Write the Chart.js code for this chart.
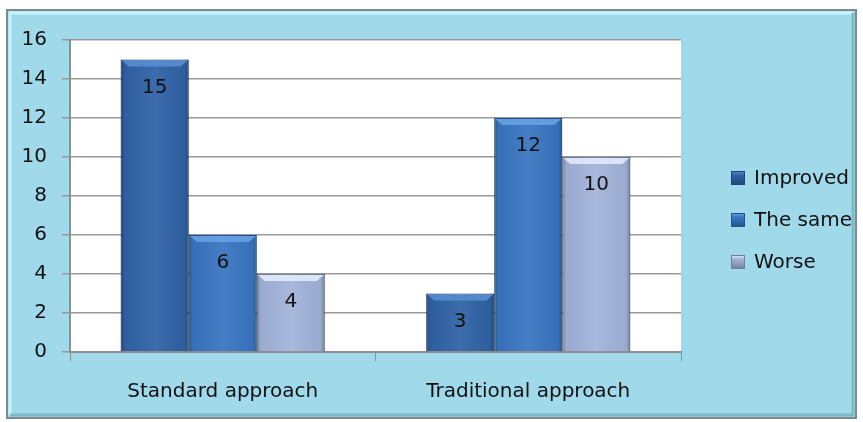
<!DOCTYPE html>
<html>
<head>
<meta charset="utf-8">
<script src="https://cdn.jsdelivr.net/npm/chart.js@4"></script>
<style>
  html, body { margin: 0; padding: 0; background: #fff; }
  #wrap { width: 863px; height: 422px; position: relative; }
</style>
</head>
<body>
<div id="wrap"><canvas id="approachChart"></canvas></div>
<script>
// values
const categories = ['Standard approach', 'Traditional approach'];
const improved = [15, 3];
const theSame = [6, 12];
const worse = [4, 10];
const yTicks = [0, 2, 4, 6, 8, 10, 12, 14, 16];

const FONT = 'DejaVu Sans';

// colours for each series (main fill, dark edge, light top)
const seriesStyle = [
    { fill: '#3063a6', edge: '#1f4679', light: '#5b8fd3' },
    { fill: '#3a76c2', edge: '#24528e', light: '#6aa2e6' },
    { fill: '#a3b4da', edge: '#6e7fa3', light: '#e4eefe' }
];

// frame + white plot area behind everything
const backgroundPlugin = {
    id: 'frameBg',
    beforeDraw(chart) {
        const c = chart.ctx;
        const a = chart.chartArea;
        c.save();
        c.fillStyle = '#ffffff';
        c.fillRect(0, 0, chart.width, chart.height);
        c.fillStyle = '#9fd9ea';
        c.fillRect(7, 10, 849, 408);
        // light bevel on top / left
        c.strokeStyle = '#c8f4fb';
        c.lineWidth = 3;
        c.beginPath();
        c.moveTo(10, 415); c.lineTo(10, 13); c.lineTo(853, 13);
        c.stroke();
        c.strokeStyle = '#7fb8c8';
        c.beginPath();
        c.moveTo(10, 415); c.lineTo(853, 415); c.lineTo(853, 13);
        c.stroke();
        c.strokeStyle = '#808a8c';
        c.lineWidth = 2;
        c.strokeRect(7, 10, 849, 408);
        c.fillStyle = '#ffffff';
        c.fillRect(a.left, a.top, a.right - a.left, a.bottom - a.top);
        c.restore();
    }
};

// bevel look on the bars + value labels
const barLookPlugin = {
    id: 'barLook',
    afterDatasetsDraw(chart) {
        const c = chart.ctx;
        chart.data.datasets.forEach((ds, di) => {
            const meta = chart.getDatasetMeta(di);
            const st = seriesStyle[di];
            meta.data.forEach((bar, i) => {
                const { x, y, base, width } = bar.getProps(['x', 'y', 'base', 'width'], true);
                const l = x - width / 2, r = x + width / 2;
                c.save();
                // darker sides, lighter middle
                const g = c.createLinearGradient(l, 0, r, 0);
                g.addColorStop(0, 'rgba(0,0,0,0.28)');
                g.addColorStop(0.06, 'rgba(0,0,0,0.05)');
                g.addColorStop(0.5, 'rgba(255,255,255,0.06)');
                g.addColorStop(0.94, 'rgba(0,0,0,0.05)');
                g.addColorStop(1, 'rgba(0,0,0,0.3)');
                c.fillStyle = g;
                c.fillRect(l, y, width, base - y);
                // top highlight
                c.fillStyle = st.light;
                c.globalAlpha = 0.85;
                c.beginPath();
                c.moveTo(l + 1, y + 1);
                c.lineTo(r - 1, y + 1);
                c.lineTo(r - 8, y + 7);
                c.lineTo(l + 8, y + 7);
                c.closePath();
                c.fill();
                c.globalAlpha = 1;
                // value label
                c.fillStyle = '#111';
                c.font = '20px ' + FONT;
                c.textAlign = 'center';
                c.textBaseline = 'middle';
                c.fillText(ds.data[i], x, y + 28);
                c.restore();
            });
        });
    }
};

// legend on the right, like the original
const sideLegendPlugin = {
    id: 'sideLegend',
    afterDraw(chart) {
        const c = chart.ctx;
        const boxX = chart.chartArea.right + 50;
        const rows = [178, 220, 262];
        c.save();
        chart.data.datasets.forEach((ds, di) => {
            const st = seriesStyle[di];
            const cy = rows[di];
            const g = c.createLinearGradient(0, cy - 7, 0, cy + 7);
            g.addColorStop(0, st.light);
            g.addColorStop(0.3, st.fill);
            g.addColorStop(1, st.edge);
            c.fillStyle = g;
            c.fillRect(boxX, cy - 7, 14, 14);
            c.strokeStyle = st.edge;
            c.lineWidth = 1;
            c.strokeRect(boxX + 0.5, cy - 6.5, 13, 13);
            c.fillStyle = '#111';
            c.font = '20px ' + FONT;
            c.textAlign = 'left';
            c.textBaseline = 'middle';
            c.fillText(ds.label, boxX + 23, cy + 1);
        });
        c.restore();
    }
};

const ctx = document.getElementById('approachChart');

new Chart(ctx, {
    type: 'bar',
    data: {
        labels: categories,
        datasets: [
            { label: 'Improved', data: improved },
            { label: 'The same', data: theSame },
            { label: 'Worse', data: worse }
        ].map((ds, i) => Object.assign(ds, {
            backgroundColor: seriesStyle[i].fill,
            borderColor: seriesStyle[i].edge,
            borderWidth: 1,
            categoryPercentage: 0.668,
            barPercentage: 1
        }))
    },
    options: {
        responsive: true,
        maintainAspectRatio: false,
        animation: false,
        layout: { padding: { left: 10, top: 40, right: 182, bottom: 10 } },
        plugins: {
            legend: { display: false },
            tooltip: { enabled: false }
        },
        scales: {
            x: {
                afterFit(scale) { scale.height = 60; },
                grid: {
                    offset: true,
                    drawOnChartArea: false,
                    drawTicks: true,
                    tickLength: 9,
                    color: '#8f8f8f'
                },
                border: { color: '#8f8f8f', width: 2 },
                ticks: {
                    padding: 19,
                    color: '#111',
                    font: { family: FONT, size: 20 }
                }
            },
            y: {
                min: 0,
                max: 16,
                afterFit(scale) { scale.width = 60; },
                afterBuildTicks(scale) {
                    scale.ticks = yTicks.map(v => ({ value: v }));
                },
                grid: {
                    color: '#999999',
                    lineWidth: 1.5,
                    tickLength: 8
                },
                border: { color: '#8f8f8f', width: 2 },
                ticks: {
                    padding: 15,
                    color: '#111',
                    font: { family: FONT, size: 20 }
                }
            }
        }
    },
    plugins: [backgroundPlugin, barLookPlugin, sideLegendPlugin]
});
</script>
</body>
</html>
